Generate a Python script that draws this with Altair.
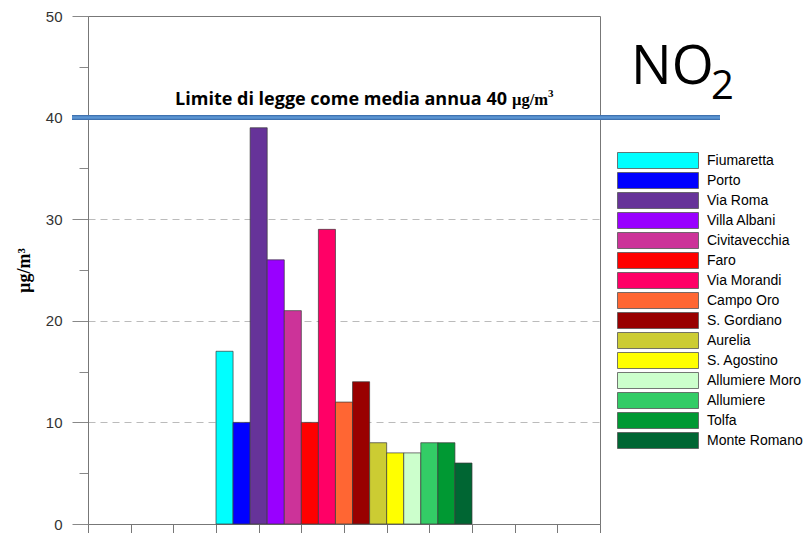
import altair as alt
import pandas as pd

# Annual mean NO2 by monitoring station
stations = [
    "Fiumaretta", "Porto", "Via Roma", "Villa Albani", "Civitavecchia",
    "Faro", "Via Morandi", "Campo Oro", "S. Gordiano", "Aurelia",
    "S. Agostino", "Allumiere Moro", "Allumiere", "Tolfa", "Monte Romano",
]
no2_values = [17, 10, 39, 26, 21, 10, 29, 12, 14, 8, 7, 7, 8, 8, 6]
station_colors = [
    "#00FFFF", "#0000FF", "#663399", "#9900FF", "#CC3399",
    "#FF0000", "#FF0066", "#FF6633", "#990000", "#CCCC33",
    "#FFFF00", "#CCFFCC", "#33CC66", "#009933", "#006633",
]
y_tick_values = [0, 5, 10, 15, 20, 25, 30, 35, 40, 45, 50]
x_tick_values = list(range(13))
legal_limit = 40

PLOT_W, PLOT_H = 512, 508
first_slot = 3      # bars start at the fourth x tick
slot_width = 0.4    # each station occupies 0.4 x-units

df = pd.DataFrame({"station": stations, "value": no2_values})
df["x0"] = first_slot + df.index * slot_width
df["x1"] = df["x0"] + slot_width

y_scale = alt.Scale(domain=[0, 50], nice=False, padding=0)
x_scale = alt.Scale(domain=[0, 12], nice=False, padding=0)

major = "datum.value % 10 === 0"
inner_major = "datum.value % 10 === 0 && datum.value > 0 && datum.value < 50"

bars = alt.Chart(df).mark_bar(stroke="#3a3a3a", strokeWidth=0.7).encode(
    x=alt.X(
        "x0:Q", scale=x_scale,
        axis=alt.Axis(values=x_tick_values, labels=False, tickSize=9, grid=False,
                      title=None, domainColor="#777777", tickColor="#777777"),
    ),
    x2="x1:Q",
    y=alt.Y(
        "value:Q", scale=y_scale,
        axis=alt.Axis(
            values=y_tick_values,
            labelExpr=f"{major} ? datum.label : ''",
            tickSize={"condition": {"test": major, "value": 16}, "value": 9},
            gridOpacity={"condition": {"test": inner_major, "value": 1}, "value": 0},
            gridDash=[7, 5], gridColor="#bbbbbb",
            domainColor="#777777", tickColor="#888888",
            labelFont="Liberation Sans", labelFontSize=15, labelColor="#333333",
            labelPadding=10,
            title="µg/m³", titleFont="Liberation Serif", titleFontSize=18,
            titleFontWeight="bold", titleColor="#000000", titlePadding=12,
        ),
    ),
    y2=alt.datum(0),
    color=alt.Color(
        "station:N",
        scale=alt.Scale(domain=stations, range=station_colors),
        legend=alt.Legend(
            title=None, orient="none", legendX=529, legendY=136,
            symbolType="M-1,-1H9.125V1H-1Z", symbolSize=256,
            symbolStrokeColor="#555555", symbolStrokeWidth=0.8,
            symbolOpacity=1, labelOffset=73, rowPadding=-1, padding=0,
            labelFont="Liberation Sans", labelFontSize=14, labelColor="#000000",
            labelLimit=200,
        ),
    ),
)

# Legal limit band across the chart
limit_dark = alt.Chart().mark_rule(color="#3f72b0", strokeWidth=5).encode(
    y=alt.datum(legal_limit, type="quantitative", scale=y_scale),
    x=alt.value(-16), x2=alt.value(632),
)
limit_light = alt.Chart().mark_rule(color="#5b95d2", strokeWidth=2.5).encode(
    y=alt.datum(legal_limit, type="quantitative", scale=y_scale),
    x=alt.value(-16), x2=alt.value(632),
)

label_sans = alt.Chart().mark_text(
    text="Limite di legge come media annua 40", font="Open Sans", fontWeight="bold",
    fontSize=18, align="right", baseline="alphabetic", color="#000000",
).encode(x=alt.value(419), y=alt.value(89))
label_unit = alt.Chart().mark_text(
    text="µg/m", font="Liberation Serif", fontWeight="bold",
    fontSize=16.5, align="left", baseline="alphabetic", color="#000000",
).encode(x=alt.value(424), y=alt.value(89))
label_cube = alt.Chart().mark_text(
    text="3", font="Liberation Serif", fontWeight="bold",
    fontSize=11, align="left", baseline="alphabetic", color="#000000",
).encode(x=alt.value(460), y=alt.value(81))

no_text = alt.Chart().mark_text(
    text="NO", font="Open Sans", fontSize=54, align="left",
    baseline="alphabetic", color="#000000",
).encode(x=alt.value(543), y=alt.value(68))
sub_text = alt.Chart().mark_text(
    text="2", font="Open Sans", fontSize=40, align="left",
    baseline="alphabetic", color="#000000",
).encode(x=alt.value(623), y=alt.value(83))

chart = alt.layer(
    bars, limit_dark, limit_light, label_sans, label_unit, label_cube,
    no_text, sub_text,
).properties(
    width=PLOT_W, height=PLOT_H,
    padding={"left": 88, "top": 16, "right": 207, "bottom": 9},
    autosize=alt.AutoSizeParams(type="none"),
    background="#ffffff",
).configure_view(stroke="#777777", strokeWidth=1)

chart.save("out.html", embed_options={"renderer": "svg", "actions": False})
